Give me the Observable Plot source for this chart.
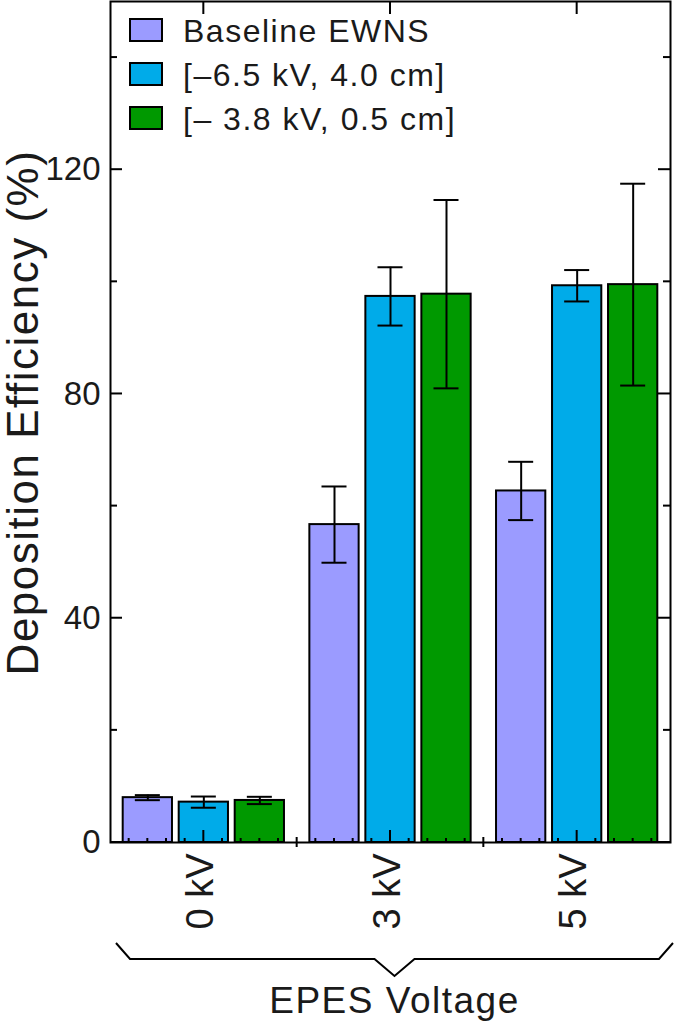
<!DOCTYPE html>
<html><head><meta charset="utf-8">
<script src="https://cdn.jsdelivr.net/npm/d3@7"></script>
<script src="https://cdn.jsdelivr.net/npm/@observablehq/plot@0.6"></script>
<style>body{margin:0;background:#fff}</style>
</head><body><div id="chart"></div>
<script>
// ---- data ----
const groups = ["0 kV", "3 kV", "5 kV"];
const series = ["Baseline EWNS", "[–6.5 kV, 4.0 cm]", "[– 3.8 kV, 0.5 cm]"];
const colors = ["#9b9bff", "#00abe9", "#009900"];
const baseline = [8.0, 56.7, 62.7];
const baselineErr = [0.45, 6.8, 5.2];
const config1 = [7.2, 97.4, 99.3];
const config1Err = [1.0, 5.2, 2.8];
const config2 = [7.5, 97.8, 99.5];
const config2Err = [0.65, 16.8, 18.0];
const yTicksMajor = [0, 40, 80, 120];
const yTicksMinor = [20, 60, 100, 140];
const xTitle = "EPES Voltage";
const yTitle = "Deposition Efficiency (%)";

// ---- table ----
const valueSets = [[baseline, baselineErr], [config1, config1Err], [config2, config2Err]];
const rows = [];
groups.forEach((g, gi) => {
  valueSets.forEach(([v, e], si) => {
    rows.push({group: g, gi, series: series[si], si, value: v[gi], err: e[gi]});
  });
});
const OFFSET = 0.3, HALF = 0.132, CAP = 0.067;
const pos = d => d.gi + 1 + (d.si - 1) * OFFSET;
const FONT = "'Liberation Sans', Arial, Helvetica, sans-serif";
const INK = "#1a1a1a";

function ticksMark(index, scales, values, dim) {
  const {x, y} = scales;
  const L = dim.marginLeft, R = dim.width - dim.marginRight;
  const T = dim.marginTop, B = dim.height - dim.marginBottom;
  const g = d3.create("svg:g").attr("stroke", "black").attr("stroke-width", 2).attr("fill", "none");
  const seg = (x1, y1, x2, y2) => g.append("line").attr("x1", x1).attr("y1", y1).attr("x2", x2).attr("y2", y2);
  for (const v of yTicksMajor) { seg(L, y(v), L + 12, y(v)); seg(R, y(v), R - 12, y(v)); }
  for (const v of yTicksMinor) { seg(L, y(v), L + 7, y(v)); seg(R, y(v), R - 7, y(v)); }
  const n = groups.length;
  for (let k = 6; k < n * 10 + 5; k++) {
    const v = k / 10;
    if (k % 10 === 0) { seg(x(v), B, x(v), B - 12); seg(x(v), T, x(v), T + 13); }
    else if (k % 10 === 5) { seg(x(v), B - 5, x(v), B + 5); }
    else { seg(x(v), B, x(v), B - 4); }
  }
  // brace under the categories
  const x0 = x(0.5) + 6, x1 = x(n + 0.5) + 3, mid = (x0 + x1) / 2;
  const pts = [[x0, B + 101], [x0 + 14, B + 117], [mid - 20, B + 117], [mid, B + 134],
               [mid + 20, B + 117], [x1 - 14, B + 117], [x1, B + 101]];
  g.append("path").attr("d", d3.line()(pts)).attr("stroke-linejoin", "miter");
  return g.node();
}

function titlesMark(index, scales, values, dim) {
  const {x} = scales;
  const T = dim.marginTop, B = dim.height - dim.marginBottom;
  const g = d3.create("svg:g").attr("fill", INK).attr("font-family", FONT);
  const n = groups.length;
  const mid = (x(0.5) + 6 + x(n + 0.5) + 3) / 2;
  g.append("text").attr("transform", `translate(38,${(T + B) / 2 - 9}) rotate(-90)`)
    .attr("text-anchor", "middle").attr("font-size", 44).attr("letter-spacing", "1.5px").text(yTitle);
  g.append("text").attr("x", mid).attr("y", B + 171)
    .attr("text-anchor", "middle").attr("font-size", 37).attr("letter-spacing", "1.5px").text(xTitle);
  return g.node();
}

function legendMark(index, scales, values, dim) {
  const g = d3.create("svg:g");
  const L = dim.marginLeft, T = dim.marginTop;
  series.forEach((s, i) => {
    const cy = T + 29 + i * 44;
    g.append("rect").attr("x", L + 20).attr("y", cy - 11).attr("width", 32).attr("height", 22)
      .attr("fill", scales.color(s)).attr("stroke", "black").attr("stroke-width", 2);
    g.append("text").attr("x", L + 73).attr("y", cy).attr("dy", "0.36em").attr("text-anchor", "start")
      .attr("font-size", 32).attr("letter-spacing", "1.5px").attr("fill", INK).attr("font-family", FONT).text(s);
  });
  return g.node();
}

const plot = Plot.plot({
  width: 675, height: 1026,
  marginLeft: 110, marginRight: 5, marginTop: 1, marginBottom: 184,
  x: {domain: [0.5, groups.length + 0.5], axis: null},
  y: {domain: [0, 150], axis: null},
  color: {domain: series, range: colors},
  style: {fontFamily: FONT, color: INK, background: "white", overflow: "visible"},
  marks: [
    Plot.rect(rows, {x1: d => pos(d) - HALF, x2: d => pos(d) + HALF, y1: 0, y2: "value",
      fill: "series", stroke: "black", strokeWidth: 2}),
    Plot.ruleX(rows, {x: pos, y1: d => d.value - d.err, y2: d => d.value + d.err, stroke: "black", strokeWidth: 2}),
    Plot.ruleY(rows, {x1: d => pos(d) - CAP, x2: d => pos(d) + CAP, y: d => d.value + d.err, stroke: "black", strokeWidth: 2}),
    Plot.ruleY(rows, {x1: d => pos(d) - CAP, x2: d => pos(d) + CAP, y: d => d.value - d.err, stroke: "black", strokeWidth: 2}),
    Plot.frame({stroke: "black", strokeWidth: 2}),
    ticksMark,
    legendMark,
    titlesMark,
    Plot.text(yTicksMajor, {frameAnchor: "left", y: d => d, text: d => String(d), textAnchor: "end",
      dx: -10, fontSize: 33, fill: INK}),
    Plot.text(groups, {x: (d, i) => i + 1, frameAnchor: "bottom", text: d => d, rotate: -90,
      textAnchor: "end", lineAnchor: "middle", dy: 11, dx: -3, fontSize: 38, fill: INK})
  ]
});
document.getElementById("chart").appendChild(plot);
</script>
</body></html>
